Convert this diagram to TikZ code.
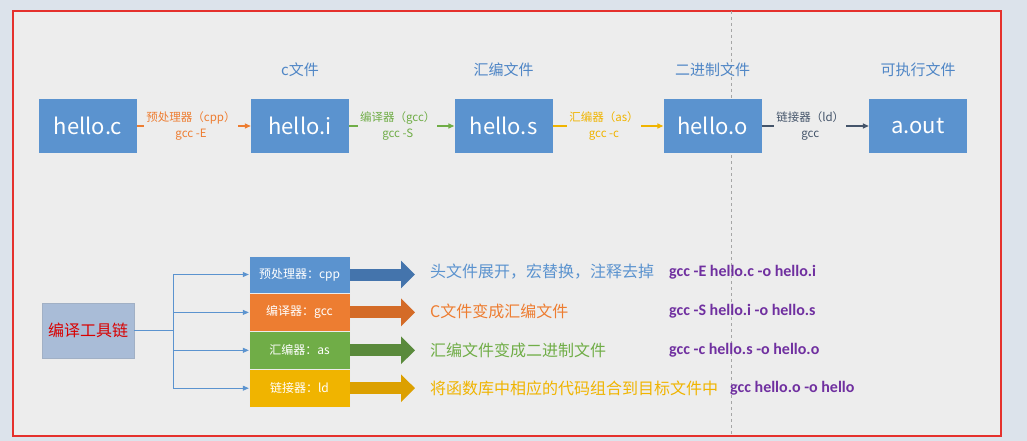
\documentclass[tikz,border=0pt]{standalone}
\usepackage{fontspec}
\setmainfont{Noto Sans CJK SC}
\newfontfamily\cmdfont{Carlito}
\usetikzlibrary{arrows.meta,positioning}

\definecolor{outerbg}{HTML}{DCE3EB}
\definecolor{panelbg}{HTML}{EDEDED}
\definecolor{frame}{HTML}{E5312D}
\definecolor{fileblue}{HTML}{5B93CF}
\definecolor{capblue}{HTML}{4F86C6}
\definecolor{cpporange}{HTML}{ED7D31}
\definecolor{gccgreen}{HTML}{70AD47}
\definecolor{asgold}{HTML}{F0B400}
\definecolor{ldgray}{HTML}{44546A}
\definecolor{cmdpurple}{HTML}{7030A0}
\definecolor{chainfill}{HTML}{A9BCD7}
\definecolor{fatblue}{HTML}{4474AC}
\definecolor{fatorange}{HTML}{D46B27}
\definecolor{fatgreen}{HTML}{5A8A3C}
\definecolor{fatgold}{HTML}{DCA000}

\begin{document}
\begin{tikzpicture}[
    x=1pt, y=-1pt,
    file/.style={fill=fileblue, text=white, minimum width=98pt, minimum height=54pt, inner sep=0pt, font=\fontsize{22}{24}\selectfont},
    kind/.style={text=capblue, font=\fontsize{15}{17}\selectfont},
    stage/.style={fill=panelbg, align=center, inner sep=2pt, font=\fontsize{11.5}{16}\selectfont},
    flow/.style={-{Triangle[length=6pt,width=5pt]}, line width=1.3pt},
    tool/.style={draw=white!85!gray, text=white, minimum width=101pt, minimum height=37.5pt, inner sep=0pt, font=\fontsize{12}{14}\selectfont},
    tree/.style={draw=fileblue, line width=0.8pt},
    fat/.style={line width=12pt, -{Triangle[length=14pt,width=27pt]}},
    desc/.style={anchor=west, inner sep=0pt, font=\fontsize{16}{18}\selectfont},
    cmd/.style={anchor=west, inner sep=0pt, text=cmdpurple, font=\cmdfont\bfseries\fontsize{16}{18}\selectfont},
]
% backdrop and frame
\fill[outerbg] (0,0) rectangle (1027,441);
\draw[frame, line width=1.5pt, fill=panelbg] (13,11) rectangle (1001,436);
\draw[gray!70, dashed, line width=0.6pt] (731,11) -- (731,436);

% build steps
\node[file] (hc) at (88,126) {hello.c};
\node[file] (hi) at (300,126) {hello.i};
\node[file] (hs) at (503.5,126) {hello.s};
\node[file] (ho) at (712.5,126) {hello.o};
\node[file] (out) at (918,126) {a.out};

\node[kind] at (300,70) {c文件};
\node[kind] at (503.5,70) {汇编文件};
\node[kind] at (712.5,70) {二进制文件};
\node[kind] at (918,70) {可执行文件};

\draw[flow, cpporange] (hc) -- node[stage, text=cpporange, xshift=-3pt] {预处理器（cpp）\\gcc -E} (hi);
\draw[flow, gccgreen] (hi) -- node[stage, text=gccgreen, xshift=-4pt] {编译器（gcc）\\gcc -S} (hs);
\draw[flow, asgold] (hs) -- node[stage, text=asgold, xshift=-4pt] {汇编器（as）\\gcc -c} (ho);
\draw[flow, ldgray] (ho) -- node[stage, text=ldgray, xshift=-5pt] {链接器（ld）\\gcc} (out);

% tool chain
\node[draw=chainfill!80!gray, fill=chainfill, minimum width=92pt, minimum height=55pt, text=red!85!black, font=\fontsize{16}{18}\selectfont] (chain) at (88,330.5) {编译工具链};

\node[tool, fill=fileblue] (cpp) at (299.5,274.5) {预处理器：cpp};
\node[tool, fill=cpporange, below=0pt of cpp] (gcc) {编译器：gcc};
\node[tool, fill=gccgreen, below=0pt of gcc] (as) {汇编器：as};
\node[tool, fill=asgold, below=0pt of as] (ld) {链接器：ld};

\draw[tree] (chain.east) -- ++(39,0) coordinate (fork);
\draw[tree] (fork |- cpp) -- (fork |- ld);
\foreach \t in {cpp,gcc,as,ld}
    \draw[tree, -{Triangle[length=6pt,width=5pt]}] (fork |- \t) -- (\t.west);

\node[desc, text=fileblue] (d1) at (430,272) {头文件展开，宏替换，注释去掉};
\node[desc, text=cpporange] (d2) at (430,311) {C文件变成汇编文件};
\node[desc, text=gccgreen] (d3) at (430,350) {汇编文件变成二进制文件};
\node[desc, text=asgold] (d4) at (430,388) {将函数库中相应的代码组合到目标文件中};

\draw[fat, fatblue] (cpp.east) -- ([xshift=-15]d1.west |- cpp);
\draw[fat, fatorange] (gcc.east) -- ([xshift=-15]d2.west |- gcc);
\draw[fat, fatgreen] (as.east) -- ([xshift=-15]d3.west |- as);
\draw[fat, fatgold] (ld.east) -- ([xshift=-15]d4.west |- ld);

\node[cmd] (c1) at (669,272) {gcc -E hello.c -o hello.i};
\node[cmd] (c2) at (669,311) {gcc -S hello.i -o hello.s};
\node[cmd] (c3) at (669,350) {gcc -c hello.s -o hello.o};
\node[cmd] (c4) at (730,388) {gcc hello.o -o hello};
\end{tikzpicture}
\end{document}
